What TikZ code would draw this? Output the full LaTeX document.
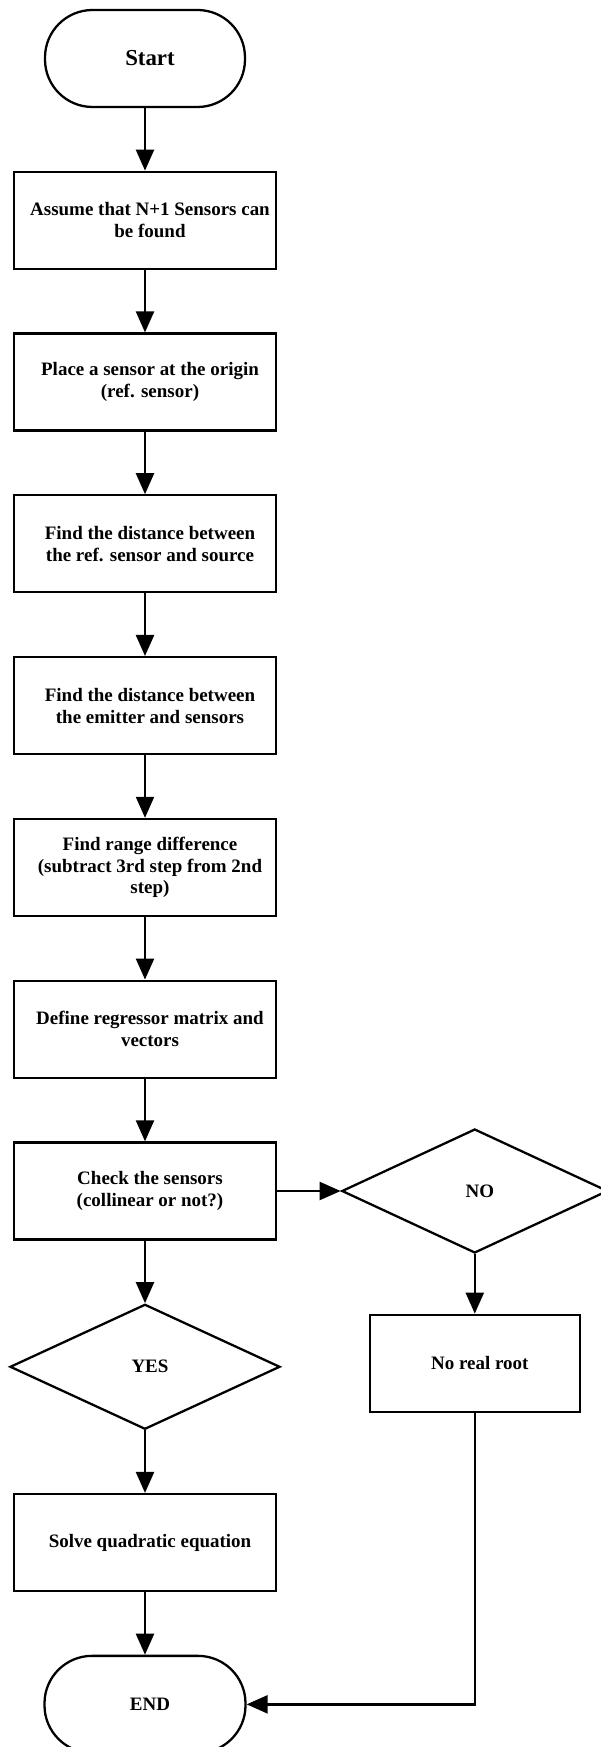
\documentclass[tikz,border=0pt]{standalone}
\usepackage{fontspec}
\setmainfont{Liberation Serif}
\usetikzlibrary{positioning,shapes.geometric,arrows.meta}

% text in the shapes sits a little right of centre
\newcommand{\rs}{\hspace*{0.2cm}}

\tikzset{
  flowline/.style={line width=1.3pt, -{Triangle[length=0.42cm,width=0.36cm]}},
  boxtext/.style={font=\fontsize{10.8}{12.4}\selectfont\bfseries, execute at begin node={\rs}},
  stepbox/.style={draw, line width=1.3pt, minimum width=5.24cm, minimum height=1.94cm, align=center, boxtext},
  terminal/.style={draw, line width=1.3pt, rounded corners=0.95cm, minimum width=4cm, minimum height=1.94cm, boxtext},
  decision/.style={draw, diamond, line width=1.3pt, inner sep=0pt, minimum width=5.4cm, minimum height=2.5cm, boxtext}
}

\begin{document}
\begin{tikzpicture}[node distance=1.25cm]
\useasboundingbox (0,0) rectangle (12.02,-34.94);

% main column
\node[terminal, font=\fontsize{13}{14}\selectfont\bfseries] (start) at (2.9,-1.17) {Start};
\node[stepbox, below=of start] (assume) {Assume that N+1 Sensors can\\be found};
\node[stepbox, below=of assume] (place) {Place a sensor at the origin\\(ref. sensor)};
\node[stepbox, below=of place] (refdist) {Find the distance between\\the ref. sensor and source};
\node[stepbox, below=of refdist] (emitdist) {Find the distance between\\the emitter and sensors};
\node[stepbox, below=of emitdist] (range) {Find range difference\\(subtract 3rd step from 2nd\\step)};
\node[stepbox, below=of range] (regress) {Define regressor matrix and\\vectors};
\node[stepbox, below=of regress] (check) {Check the sensors\\(collinear or not?)};
\node[decision, below=of check] (yes) {YES};
\node[stepbox, below=of yes] (solve) {Solve quadratic equation};
\node[terminal, minimum width=4.02cm, below=of solve] (stop) {END};

% right branch
\node[decision, minimum width=5.32cm, minimum height=2.48cm, right=1.27cm of check] (no) {NO};
\node[stepbox, minimum width=4.2cm, below=1.19cm of no] (root) {No real root};

\foreach \a/\b in {start/assume, assume/place, place/refdist, refdist/emitdist, emitdist/range, range/regress, regress/check, check/yes, yes/solve, solve/stop, check/no, no/root}
  \draw[flowline] (\a) -- (\b);
\draw[flowline] (root) |- (stop);
\end{tikzpicture}
\end{document}
